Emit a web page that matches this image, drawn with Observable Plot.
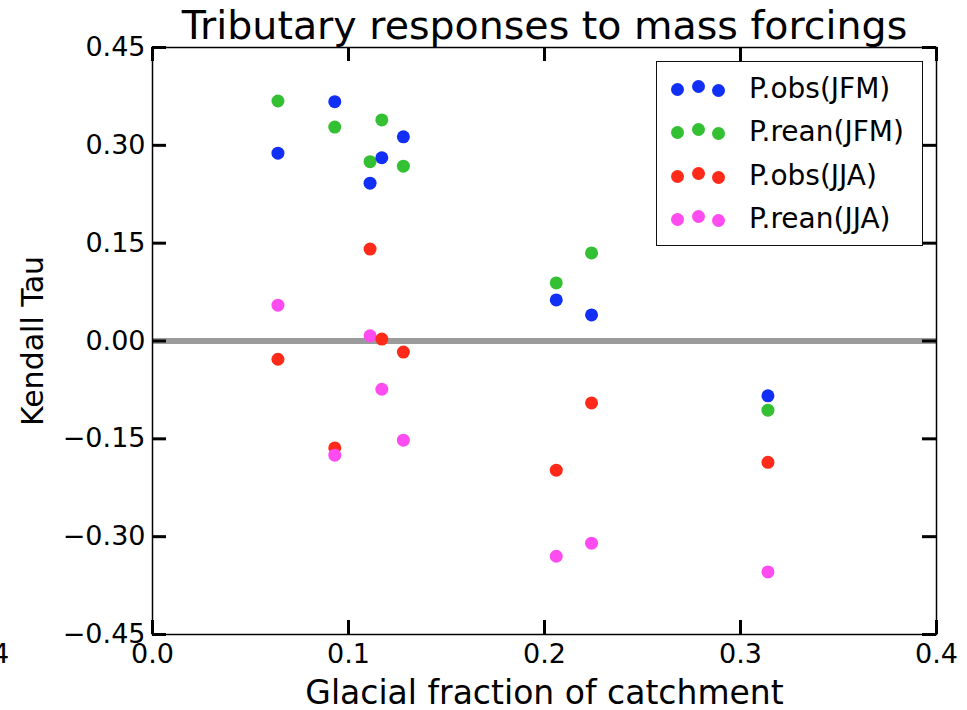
<!DOCTYPE html>
<html>
<head>
<meta charset="utf-8">
<script src="https://cdn.jsdelivr.net/npm/d3@7"></script>
<script src="https://cdn.jsdelivr.net/npm/@observablehq/plot@0.6"></script>
<style>
  body { margin: 0; background: #fff; }
  #wrap { position: relative; width: 967px; height: 710px; overflow: hidden; font-family: "DejaVu Sans", sans-serif; color: #000; }
  #chart svg { position: absolute; left: 0; top: 0; }
  #legend { position: absolute; left: 656px; top: 61px; width: 267px; height: 185px; box-sizing: border-box; border: 1.5px solid #111; background: #fff; }
  .lrow { position: absolute; left: 0; height: 0; width: 100%; }
  .ldot { position: absolute; width: 13px; height: 13px; border-radius: 50%; }
  .ltext { position: absolute; left: 92px; top: -17px; font-size: 28px; line-height: 34px; white-space: nowrap; }
  #stray { position: absolute; left: -8px; top: 638px; font-size: 27px; line-height: 32px; }
</style>
</head>
<body>
<div id="wrap">
  <div id="chart"></div>
  <div id="legend"></div>
  <span id="stray">4</span>
</div>
<script>
// ---- data ----
const glacialFraction = [0.064, 0.093, 0.111, 0.117, 0.128, 0.206, 0.224, 0.314];
const seriesNames = ["P.obs(JFM)", "P.rean(JFM)", "P.obs(JJA)", "P.rean(JJA)"];
const seriesColors = ["#1230f5", "#33c033", "#ff2a1a", "#ff4cf0"];
const tauObsJFM  = [0.288, 0.367, 0.242, 0.281, 0.313, 0.063, 0.040, -0.084];
const tauReanJFM = [0.368, 0.328, 0.275, 0.339, 0.268, 0.089, 0.135, -0.106];
const tauObsJJA  = [-0.028, -0.164, 0.141, 0.003, -0.017, -0.198, -0.095, -0.186];
const tauReanJJA = [0.055, -0.175, 0.008, -0.074, -0.152, -0.330, -0.310, -0.354];
const xTicks = [0, 0.1, 0.2, 0.3, 0.4];
const yTicks = [-0.45, -0.30, -0.15, 0, 0.15, 0.30, 0.45];
const titleText = "Tributary responses to mass forcings";
const xLabel = "Glacial fraction of catchment";
const yLabel = "Kendall Tau";

// ---- layout ----
const W = 967, H = 710;
const mL = 152, mR = 31, mT = 47, mB = 76;
const plotW = W - mL - mR, plotH = H - mT - mB;
const tickLen = 14;

const seriesValues = [tauObsJFM, tauReanJFM, tauObsJJA, tauReanJJA];
// plotted catchment by catchment, each with all four series
const rows = glacialFraction.flatMap((g, i) =>
  seriesNames.map((s, k) => ({ frac: g, tau: seriesValues[k][i], series: s }))
);

const chart = Plot.plot({
  width: W, height: H,
  marginLeft: mL, marginRight: mR, marginTop: mT, marginBottom: mB,
  style: { fontFamily: "DejaVu Sans, sans-serif", fontSize: "27px", background: "transparent", color: "#000" },
  x: { domain: [0, 0.4] },
  y: { domain: [-0.45, 0.45] },
  color: { domain: seriesNames, range: seriesColors },
  marks: [
    Plot.ruleY([0], { stroke: "#9b9b9b", strokeWidth: 6 }),
    Plot.dot(rows, { x: "frac", y: "tau", fill: "series", r: 6.5 }),
    Plot.frame({ stroke: "#000", strokeWidth: 1.5 }),
    Plot.ruleY(yTicks, { insetRight: plotW - tickLen, stroke: "#000", strokeWidth: 3 }),
    Plot.ruleY(yTicks, { insetLeft: plotW - tickLen, stroke: "#000", strokeWidth: 3 }),
    Plot.ruleX(xTicks, { insetTop: plotH - tickLen, stroke: "#000", strokeWidth: 3 }),
    Plot.ruleX(xTicks, { insetBottom: plotH - tickLen, stroke: "#000", strokeWidth: 3 }),
    Plot.axisY(yTicks, { tickSize: 0, tickPadding: 7, tickFormat: d3.format(".2f"), label: null, fontSize: 27 }),
    Plot.axisX(xTicks, { tickSize: 0, tickPadding: 9, tickFormat: d3.format(".1f"), label: null, fontSize: 27 }),
    Plot.text([titleText], { text: d => d, frameAnchor: "top", dy: -9, lineAnchor: "bottom", fontSize: 39.5 }),
    Plot.text([xLabel], { text: d => d, frameAnchor: "bottom", dy: 69, lineAnchor: "bottom", fontSize: 33 }),
    Plot.text([yLabel], { text: d => d, frameAnchor: "left", textAnchor: "middle", dx: -(mL - 33), rotate: -90, fontSize: 30 })
  ]
});
document.getElementById("chart").appendChild(chart);

// ---- legend ----
const legend = document.getElementById("legend");
const rowCenters = [27, 70, 114, 157];
const dotXs = [20, 41, 61];
const dotDy = [0, -3, 1];
seriesNames.forEach((name, k) => {
  const row = document.createElement("div");
  row.className = "lrow";
  row.style.top = rowCenters[k] + "px";
  dotXs.forEach((dx, j) => {
    const dot = document.createElement("span");
    dot.className = "ldot";
    dot.style.left = (dx - 6.5) + "px";
    dot.style.top = (-6.5 + dotDy[j]) + "px";
    dot.style.background = seriesColors[k];
    row.appendChild(dot);
  });
  const t = document.createElement("span");
  t.className = "ltext";
  t.textContent = name;
  row.appendChild(t);
  legend.appendChild(row);
});
</script>
</body>
</html>
